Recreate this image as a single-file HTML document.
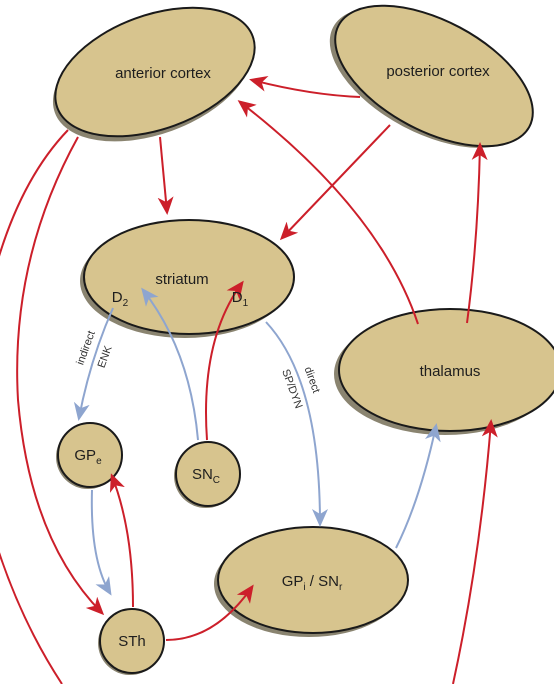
<!DOCTYPE html>
<html><head><style>
html,body{margin:0;padding:0;background:#fff;}
svg{display:block;font-family:"Liberation Sans",Arial,sans-serif;}
</style></head><body>
<svg width="554" height="684" viewBox="0 0 554 684" xmlns="http://www.w3.org/2000/svg">
<defs>
<marker id="r" markerWidth="18" markerHeight="16" refX="15" refY="8" orient="auto" markerUnits="userSpaceOnUse" viewBox="0 0 18 16">
<path d="M0,0 L18,8 L0,16 L5,8 Z" fill="#cc1f2a"/></marker>
<marker id="b" markerWidth="18" markerHeight="16" refX="15" refY="8" orient="auto" markerUnits="userSpaceOnUse" viewBox="0 0 18 16">
<path d="M0,0 L18,8 L0,16 L5,8 Z" fill="#8ea5cf"/></marker>
</defs>
<!-- nodes -->
<g stroke="#1a1a1a" stroke-width="2">
<g transform="translate(155,72) rotate(-20)">
<ellipse cx="-4" cy="4" rx="104" ry="57" fill="#8a8470" stroke="none"/>
<ellipse cx="0" cy="0" rx="104" ry="57" fill="#d7c48e"/></g>
<g transform="translate(434,76) rotate(28)">
<ellipse cx="-4" cy="4" rx="108" ry="55" fill="#8a8470" stroke="none"/>
<ellipse cx="0" cy="0" rx="108" ry="55" fill="#d7c48e"/></g>
<ellipse cx="185" cy="281" rx="105" ry="57" fill="#8a8470" stroke="none"/>
<ellipse cx="189" cy="277" rx="105" ry="57" fill="#d7c48e"/>
<ellipse cx="445" cy="374" rx="111" ry="61" fill="#8a8470" stroke="none"/>
<ellipse cx="450" cy="370" rx="111" ry="61" fill="#d7c48e"/>
<ellipse cx="309" cy="584" rx="95" ry="53" fill="#8a8470" stroke="none"/>
<ellipse cx="313" cy="580" rx="95" ry="53" fill="#d7c48e"/>
<circle cx="88" cy="457" r="32" fill="#8a8470" stroke="none"/>
<circle cx="90" cy="455" r="32" fill="#d7c48e"/>
<circle cx="206" cy="476" r="32" fill="#8a8470" stroke="none"/>
<circle cx="208" cy="474" r="32" fill="#d7c48e"/>
<circle cx="130" cy="643" r="32" fill="#8a8470" stroke="none"/>
<circle cx="132" cy="641" r="32" fill="#d7c48e"/>
</g>
<g fill="none" stroke-width="2">
<path d="M160,137 L167,212" stroke="#cc1f2a" marker-end="url(#r)"/>
<path d="M360,97 Q310,95 252,80" stroke="#cc1f2a" marker-end="url(#r)"/>
<path d="M418,324 Q380,210 240,102" stroke="#cc1f2a" marker-end="url(#r)"/>
<path d="M390,125 L282,238" stroke="#cc1f2a" marker-end="url(#r)"/>
<path d="M467,323 Q478,240 480,145" stroke="#cc1f2a" marker-end="url(#r)"/>
<path d="M68,130 Q20,180 -5,270" stroke="#cc1f2a"/>
<path d="M-5,540 Q20,620 62,684" stroke="#cc1f2a"/>
<path d="M78,137 Q10,260 18,400 Q30,540 102,613" stroke="#cc1f2a" marker-end="url(#r)"/>
<path d="M453,684 Q480,560 491,422" stroke="#cc1f2a" marker-end="url(#r)"/>
<path d="M166,640 Q215,640 252,587" stroke="#cc1f2a" marker-end="url(#r)"/>
<path d="M133,607 Q133,530 112,476" stroke="#cc1f2a" marker-end="url(#r)"/>
<path d="M207,440 Q200,340 242,283" stroke="#cc1f2a" marker-end="url(#r)"/>
<path d="M113,308 Q90,360 79,418" stroke="#8ea5cf" marker-end="url(#b)"/>
<path d="M92,490 Q90,560 110,593" stroke="#8ea5cf" marker-end="url(#b)"/>
<path d="M198,440 Q190,350 143,290" stroke="#8ea5cf" marker-end="url(#b)"/>
<path d="M266,322 Q320,380 320,524" stroke="#8ea5cf" marker-end="url(#b)"/>
<path d="M396,548 Q420,500 436,426" stroke="#8ea5cf" marker-end="url(#b)"/>
</g>
<g fill="#1e1e1e" font-size="15" text-anchor="middle">
<text x="163" y="78">anterior cortex</text>
<text x="438" y="76">posterior cortex</text>
<text x="182" y="284">striatum</text>
<text x="120" y="302">D<tspan font-size="10" dy="4">2</tspan></text>
<text x="240" y="302">D<tspan font-size="10" dy="4">1</tspan></text>
<text x="450" y="376">thalamus</text>
<text x="312" y="586">GP<tspan font-size="10" dy="4">i</tspan><tspan dy="-4"> / SN</tspan><tspan font-size="10" dy="4">r</tspan></text>
<text x="88" y="460">GP<tspan font-size="10" dy="4">e</tspan></text>
<text x="206" y="479">SN<tspan font-size="10" dy="4">C</tspan></text>
<text x="132" y="646">STh</text>
</g>
<g fill="#333" font-size="11" text-anchor="middle">
<text transform="translate(89,349) rotate(-70)">indirect</text>
<text transform="translate(108,358) rotate(-70)">ENK</text>
<text transform="translate(309,381) rotate(70)">direct</text>
<text transform="translate(289,390) rotate(70)">SP/DYN</text>
</g>
</svg>
</body></html>
